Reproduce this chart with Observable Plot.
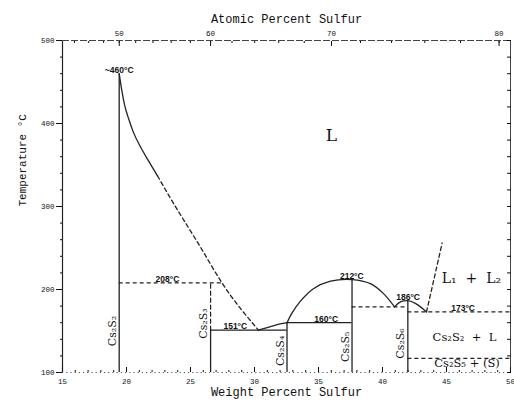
<!DOCTYPE html>
<html><head><meta charset="utf-8">
<script src="https://cdn.jsdelivr.net/npm/d3@7"></script>
<script src="https://cdn.jsdelivr.net/npm/@observablehq/plot@0.6"></script>
<style>body{margin:0;background:#fff}</style>
</head><body><div id="chart"></div>
<script>
// ---- data ----
const compoundNames = ["Cs₂S₂", "Cs₂S₃", "Cs₂S₄", "Cs₂S₅", "Cs₂S₆"];
const compoundWt    = [19.43, 26.57, 32.54, 37.62, 41.98];
const compoundTop   = [460, 151, 160, 212, 186];     // solid vertical line top
const compoundLabelT = [150, 159, 126, 131, 135];

// dashed upper part of Cs2S3 line (peritectic)
const cs2s3DashWt = [26.57, 26.57];
const cs2s3DashT  = [151, 208];

// liquidus from Cs2S2 down to eutectic
const liqASolidWt  = [19.43, 19.61, 19.84, 20.16, 20.55, 21.09, 21.72, 22.42];
const liqASolidT   = [460, 442, 423, 406, 389, 372, 355, 337];
const liqADashWt   = [22.42, 23.28, 25.78, 27.5, 30.31];
const liqADashT    = [337, 314, 251, 207, 151];
// eutectic 151 -> Cs2S4 peritectic 160
const liqBWt = [30.31, 31.2, 32.0, 32.54];
const liqBT  = [151, 155, 158.5, 160];
// Cs2S5 dome
const liqCWt = [32.54, 32.9, 33.59, 34.6, 35.94, 37.62, 39.06, 40.08, 40.94];
const liqCT  = [160, 171, 186, 201, 210, 212, 207, 195, 179];
// Cs2S6 dome
const liqDWt = [40.94, 41.4, 41.98, 42.6, 43.44];
const liqDT  = [179, 185, 186.5, 183, 173];
// miscibility gap boundary
const gapWt = [43.44, 44.66];
const gapT  = [173, 256];

// horizontal invariant lines
const tieStart  = [19.43, 26.57, 32.54, 37.62, 41.98, 41.98];
const tieEnd    = [27.5, 32.54, 37.62, 41.98, 50, 50];
const tieT      = [208, 151, 160, 179, 173, 117];
const tieDashed = [true, false, false, true, true, true];

// temperature annotations
const tempText = ["~460°C", "208°C", "151°C", "160°C", "212°C", "186°C", "173°C"];
const tempWt   = [19.43, 23.2, 28.5, 35.6, 37.6, 42.0, 46.3];
const tempT    = [460, 208, 151, 160, 212, 186, 173];

// phase-field labels
const fieldText = ["L", "L₁  +  L₂", "Cs₂S₂  +  L", "Cs₂S₅ + (S)"];
const fieldWt   = [36.0, 46.95, 46.4, 46.6];
const fieldT    = [385, 213, 142, 111];
const fieldSize = [17, 14, 11.5, 11.5];

// axes
const tempTicks = [100, 200, 300, 400, 500];
const tempMinor = d3.range(100, 501, 20);
const wtTicks = [15, 20, 25, 30, 35, 40, 45, 50];
const wtMinor = d3.range(15, 50.01, 1);
const atomicTicks = [50, 60, 70, 80];
const atomicMinor = d3.range(44, 81, 2);

// atomic % S -> weight % S (Cs = 132.905, S = 32.06)
const atToWt = a => { const r = a / (100 - a); return 100 * r * 32.06 / (r * 32.06 + 132.905); };
const atLabel = new Map(atomicTicks.map(a => [atToWt(a), String(a)]));

const pts = (xs, ys) => xs.map((x, i) => ({x, y: ys[i]}));
const mono = "Liberation Mono, DejaVu Sans Mono, monospace";
const serif = "DejaVu Serif, Liberation Serif, serif";
const sans = "Liberation Sans, Arial, sans-serif";
const dash = "4,3";

const compounds = compoundNames.map((n, i) => ({n, x: compoundWt[i], top: compoundTop[i], ly: compoundLabelT[i]}));
const ties = tieT.map((t, i) => ({x1: tieStart[i], x2: tieEnd[i], y: t, d: tieDashed[i]}));
const temps = tempText.map((t, i) => ({t, x: tempWt[i], y: tempT[i]}));
const fields = fieldText.map((t, i) => ({t, x: fieldWt[i], y: fieldT[i], s: fieldSize[i]}));

const chart = Plot.plot({
  width: 514, height: 405,
  marginLeft: 62, marginRight: 4, marginTop: 40, marginBottom: 33,
  x: {domain: [15, 50]},
  y: {domain: [100, 500]},
  style: {background: "#fff", color: "#111"},
  marks: [
    // frame
    Plot.ruleX([15], {y1: 100, y2: 500, stroke: "#222", strokeWidth: 1.2}),
    Plot.ruleX([50], {y1: 100, y2: 500, stroke: "#444", strokeWidth: 1}),
    Plot.ruleY([500], {x1: 15, x2: 50, stroke: "#444", strokeWidth: 1, strokeDasharray: "7,2"}),
    Plot.ruleY([100], {x1: 15, x2: 50, stroke: "#555", strokeWidth: 1, strokeDasharray: "1.2,3"}),
    // axes
    Plot.axisY({anchor: "left", ticks: tempTicks, tickSize: 6, tickPadding: 2, fontSize: 7.5, fontFamily: mono, label: null}),
    Plot.axisY({anchor: "left", ticks: tempMinor, tickSize: 2, tickFormat: () => "", label: null}),
    Plot.axisY({anchor: "right", ticks: tempMinor, tickSize: -4, tickFormat: () => "", label: null}),
    Plot.axisX({anchor: "bottom", ticks: wtTicks, tickSize: 0, tickPadding: 6, fontSize: 7.5, fontFamily: mono, label: null}),
    Plot.axisX({anchor: "bottom", ticks: wtTicks, tickSize: -5, tickFormat: () => "", label: null}),
    Plot.axisX({anchor: "bottom", ticks: wtMinor, tickSize: -2, tickFormat: () => "", label: null}),
    Plot.axisX({anchor: "top", ticks: atomicTicks.map(atToWt), tickSize: 0, tickPadding: 5, fontSize: 7.5, fontFamily: mono,
      tickFormat: d => atLabel.get(d), label: null}),
    Plot.axisX({anchor: "top", ticks: atomicTicks.map(atToWt), tickSize: -5, tickFormat: () => "", label: null}),
    Plot.axisX({anchor: "top", ticks: atomicMinor.map(atToWt), tickSize: -2, tickFormat: () => "", label: null}),
    // titles
    Plot.text(["Atomic Percent Sulfur"], {frameAnchor: "top", dy: -26, fontSize: 12, fontFamily: mono}),
    Plot.text(["Weight Percent Sulfur"], {frameAnchor: "bottom", dy: 23, fontSize: 12, fontFamily: mono}),
    Plot.text(["Temperature °C"], {frameAnchor: "left", rotate: -90, dx: -40, fontSize: 11, fontFamily: mono}),
    // compound lines
    Plot.ruleX(compounds, {x: "x", y1: 100, y2: "top", stroke: "#222", strokeWidth: 1.3}),
    Plot.line(pts(cs2s3DashWt, cs2s3DashT), {x: "x", y: "y", stroke: "#222", strokeWidth: 1.2, strokeDasharray: dash}),
    // invariant lines
    Plot.ruleY(ties.filter(d => !d.d), {y: "y", x1: "x1", x2: "x2", stroke: "#222", strokeWidth: 1.2}),
    Plot.ruleY(ties.filter(d => d.d), {y: "y", x1: "x1", x2: "x2", stroke: "#222", strokeWidth: 1.2, strokeDasharray: dash}),
    // liquidus curves
    Plot.line(pts(liqASolidWt, liqASolidT), {x: "x", y: "y", curve: "monotone-x", stroke: "#222", strokeWidth: 1.3}),
    Plot.line(pts(liqADashWt, liqADashT), {x: "x", y: "y", curve: "monotone-x", stroke: "#222", strokeWidth: 1.3, strokeDasharray: dash}),
    Plot.line(pts(liqBWt, liqBT), {x: "x", y: "y", curve: "monotone-x", stroke: "#222", strokeWidth: 1.3}),
    Plot.line(pts(liqCWt, liqCT), {x: "x", y: "y", curve: "catmull-rom", stroke: "#222", strokeWidth: 1.3}),
    Plot.line(pts(liqDWt, liqDT), {x: "x", y: "y", curve: "catmull-rom", stroke: "#222", strokeWidth: 1.3}),
    Plot.line(pts(gapWt, gapT), {x: "x", y: "y", stroke: "#222", strokeWidth: 1.3, strokeDasharray: dash}),
    // labels
    Plot.text(compounds, {x: "x", y: "ly", text: "n", rotate: -90, dx: -7, fontSize: 11, fontFamily: serif}),
    Plot.text(temps, {x: "x", y: "y", text: "t", lineAnchor: "bottom", dy: -1, fontSize: 8.5, fontWeight: "bold", fontFamily: sans}),
    Plot.text(fields, {x: "x", y: "y", text: "t", fontSize: d => d.s, fontFamily: serif})
  ]
});
document.getElementById("chart").appendChild(chart);
</script>
</body></html>
